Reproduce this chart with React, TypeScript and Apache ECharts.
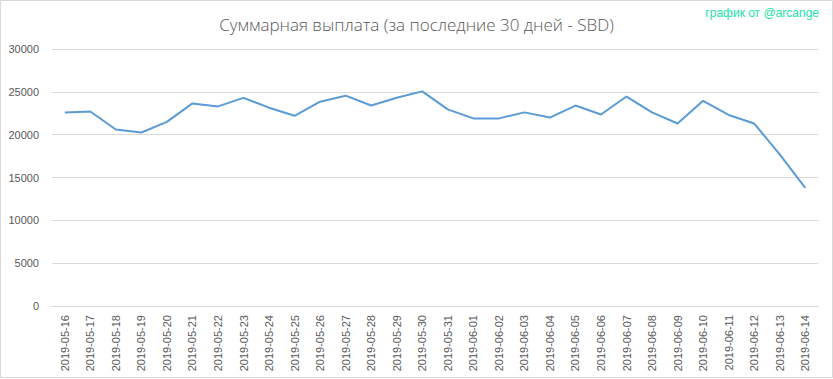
import React, { useEffect, useRef } from "react";
import * as echarts from "echarts";

const dates = [
  "2019-05-16", "2019-05-17", "2019-05-18", "2019-05-19", "2019-05-20",
  "2019-05-21", "2019-05-22", "2019-05-23", "2019-05-24", "2019-05-25",
  "2019-05-26", "2019-05-27", "2019-05-28", "2019-05-29", "2019-05-30",
  "2019-05-31", "2019-06-01", "2019-06-02", "2019-06-03", "2019-06-04",
  "2019-06-05", "2019-06-06", "2019-06-07", "2019-06-08", "2019-06-09",
  "2019-06-10", "2019-06-11", "2019-06-12", "2019-06-13", "2019-06-14",
];

const payout = [
  22600, 22700, 20600, 20250, 21500,
  23650, 23300, 24300, 23150, 22200,
  23850, 24550, 23400, 24300, 25050,
  22950, 21900, 21900, 22600, 22000,
  23400, 22350, 24450, 22600, 21300,
  23950, 22300, 21300, 17700, 13800,
];

const titleText = "Суммарная выплата (за последние 30 дней - SBD)";
const creditText = "график от @arcange";

export default function App() {
  const ref = useRef<HTMLDivElement>(null);
  useEffect(() => {
    if (!ref.current) return;
    const chart = echarts.init(ref.current, undefined, { renderer: "svg" });
    chart.setOption({
      animation: false,
      backgroundColor: "#ffffff",
      title: {
        text: titleText,
        left: "center",
        top: 11,
        textStyle: {
          fontFamily: "Open Sans",
          fontWeight: 300,
          fontSize: 17,
          color: "#595959",
        },
      },
      graphic: [
        {
          type: "rect",
          shape: { x: 0.5, y: 0.5, width: 832, height: 377 },
          style: { fill: "none", stroke: "#d9d9d9", lineWidth: 1 },
          silent: true,
        },
        {
          type: "text",
          right: 14,
          top: 7,
          style: {
            text: creditText,
            fill: "#1ddfae",
            fontFamily: "Liberation Sans",
            fontSize: 12,
          },
        },
      ],
      grid: { left: 52, right: 15, top: 49, bottom: 73, containLabel: false },
      xAxis: {
        type: "category",
        data: dates,
        boundaryGap: true,
        axisLine: { lineStyle: { color: "#d9d9d9" } },
        axisTick: { show: false },
        axisLabel: {
          rotate: 90,
          interval: 0,
          margin: 9,
          color: "#595959",
          fontFamily: "Liberation Sans",
          fontSize: 11,
        },
      },
      yAxis: {
        type: "value",
        min: 0,
        max: 30000,
        interval: 5000,
        axisLine: { show: false },
        axisTick: { show: false },
        splitLine: { lineStyle: { color: "#d9d9d9" } },
        axisLabel: {
          margin: 13,
          color: "#595959",
          fontFamily: "Liberation Sans",
          fontSize: 11,
          formatter: (v: number) => String(v),
        },
      },
      series: [
        {
          type: "line",
          data: payout,
          symbol: "none",
          lineStyle: { color: "#5b9bd5", width: 2 },
        },
      ],
    });
    return () => chart.dispose();
  }, []);
  return (
    <div
      ref={ref}
      style={{ position: "absolute", left: 0, top: 0, width: 833, height: 379 }}
    />
  );
}
